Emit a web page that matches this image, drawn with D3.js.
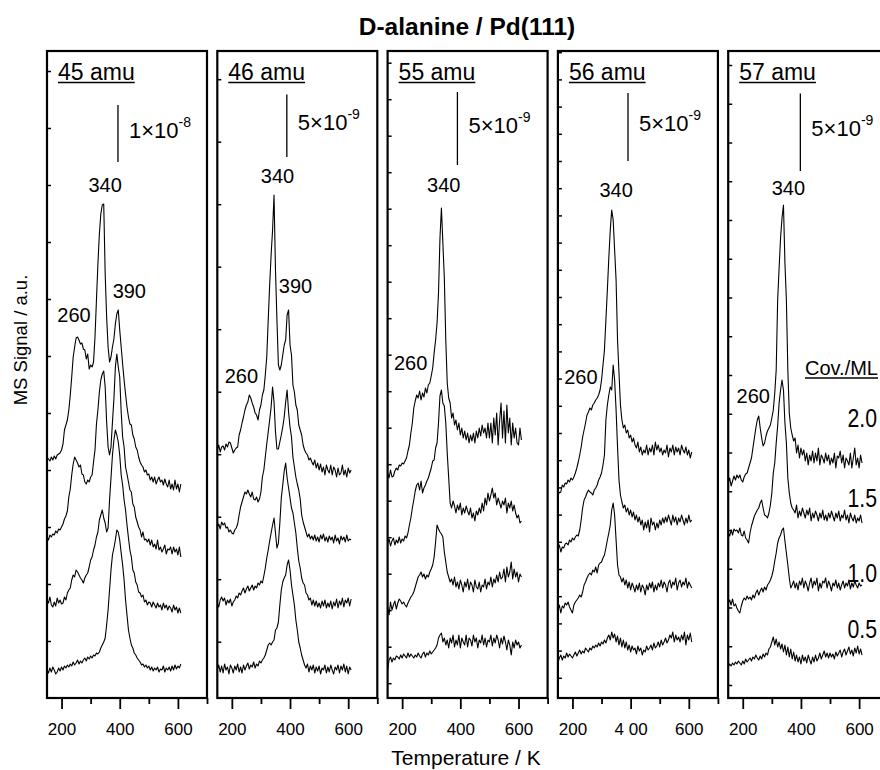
<!DOCTYPE html>
<html lang="en">
<head>
<meta charset="UTF-8">
<title>D-alanine / Pd(111)</title>
<script src="https://cdn.jsdelivr.net/npm/d3@7"></script>
<style>
    body { margin: 0; background: #fff; }
    svg { display: block; font-family: "Liberation Sans", Arial, Helvetica, sans-serif; }
</style>
</head>
<body>
<svg id="chart" width="880" height="770"></svg>
<script>
"use strict";

// temperature grid of every trace (K)
var temps = d3.range(150, 611, 5);

var masses = ["45 amu", "46 amu", "55 amu", "56 amu", "57 amu"];
var coverages = ["2.0", "1.5", "1.0", "0.5"];

// signal scale bars and left ticks, in A
var scaleBars = [1e-8, 5e-9, 5e-9, 5e-9, 5e-9];
var yTickSteps = [1e-8, 5e-9, 2.5e-9, 2e-9, 2.5e-9];
// plotted a.u. per 1e-9 A in each panel
var gains = [5.7, 12.5, 14.6, 13.6, 15.5];

var xTicks = [200, 400, 600];
var xMinorTicks = [300, 500, 700];
var xTickLabels = [
    ["200", "400", "600"],
    ["200", "400", "600"],
    ["200", "400", "600"],
    ["200", "4 00", "600"],
    ["200", "400", "600"]
];

// baseline of each trace (a.u.), order 2.0, 1.5, 1.0, 0.5 ML
var offsets45 = [241, 161, 98, 28];
var offsets46 = [248, 171, 95, 28];
var offsets55 = [225, 155, 91, 38];
var offsets56 = [208, 148, 88, 38];
var offsets57 = [215, 165, 95, 31];

// signal above baseline (a.u.), one value per 5 K from 150 to 610 K
var m45_20 = [0,-2,-4,0,-3,1,-2,2,3,4, 7,13,27,32,37,47,62,80,100,110, 119,120,117,113,114,108,107,98,103,88,
    92,90,95,120,157,193,223,243,252,253, 183,140,110,95,100,110,118,133,143,147, 127,110,93,77,63,50,40,33,32,22,
    18,10,7,0,-5,-8,-10,-15,-13,-18, -17,-23,-20,-25,-20,-27,-23,-20,-25,-23, -28,-22,-27,-30,-23,-32,-27,-33,-23,-32, -27,-35,-27];
var m45_15 = [0,-3,2,0,3,2,6,4,8,7, 10,13,18,21,26,40,48,62,73,80, 77,74,70,72,63,62,55,53,57,55,
    60,62,75,87,113,127,145,157,163,166, 150,115,90,82,90,115,138,170,183,170, 160,125,100,90,70,63,55,47,45,33,
    30,20,15,10,7,0,5,-3,-2,-5, -2,-8,-3,-10,-7,-12,-3,-13,-10,-15, -12,-8,-17,-12,-13,-10,-17,-10,-15,-12, -18,-10,-20];
var m45_10 = [0,-3,3,-5,-7,-2,-6,2,-3,0, -4,-3,3,0,7,10,12,20,25,23, 30,28,25,22,20,17,22,25,27,33,
    40,43,50,55,63,68,80,85,90,82, 77,68,72,100,122,145,160,170,165,158, 145,125,115,100,90,75,62,50,43,30,
    27,18,15,8,7,3,5,-2,0,-5, -2,-3,-7,-2,-5,-8,-3,-7,-5,-10, -3,-8,-5,-10,-6,-8,-12,-5,-10,-7, -13,-8,-13];
var m45_05 = [0,-3,2,-2,3,0,-4,-2,2,-1, 3,0,4,2,5,3,6,4,8,5, 7,10,6,9,7,10,12,9,13,11,
    14,12,15,14,17,16,18,22,25,28, 32,45,60,80,100,115,122,130,140,138, 130,117,105,90,70,55,40,32,25,22,
    17,15,12,10,8,5,6,3,5,2, 4,0,3,-1,2,0,3,-2,1,0, 4,-2,2,0,3,-1,4,0,5,1, 4,2,6];

var m46_20 = [0,5,-2,3,4,0,6,3,8,7, 2,-3,0,2,3,15,20,27,33,40, 45,48,55,52,47,43,37,35,30,40,
    45,55,60,75,93,130,165,195,220,255, 180,130,85,80,85,95,105,110,135,140, 105,95,65,58,45,40,25,20,15,5,
    0,-3,-5,-10,-8,-12,-15,-10,-18,-13, -20,-14,-22,-17,-25,-15,-20,-23,-15,-25, -17,-20,-27,-18,-25,-23,-15,-25,-20,-27, -18,-23,-20];
var m46_15 = [0,3,-2,5,2,4,-1,0,-5,-3, -6,-7,-3,-1,3,12,20,25,30,35, 33,37,33,30,35,28,27,30,25,28,
    35,50,57,70,83,95,107,120,140,125, 95,78,78,85,92,100,110,125,137,115, 100,90,70,60,50,43,37,28,12,5,
    0,-5,-10,-7,-12,-9,-13,-8,-14,-10, -15,-8,-12,-7,-14,-10,-15,-9,-13,-10, -16,-8,-14,-11,-17,-9,-13,-10,-15,-8, -14,-12,-13];
var m46_10 = [0,-4,3,6,2,5,-2,3,0,4, -3,1,3,7,5,10,8,12,15,10, 14,17,12,15,18,13,17,15,20,18,
    22,20,27,35,45,53,62,70,78,85, 70,55,60,80,105,118,132,140,125,115, 105,95,90,80,70,55,42,35,25,20,
    18,10,8,3,5,-2,3,-3,2,-4, 0,-5,2,-3,3,-5,0,-4,2,-6, 1,-3,4,-5,2,-2,5,-4,3,0, 5,-3,4];
var m46_05 = [0,5,-2,4,-3,6,0,3,-4,5, 2,-3,4,0,6,-2,3,-3,5,0, 4,7,1,5,3,8,2,6,4,9,
    7,10,12,15,20,25,27,25,28,30, 40,42,48,65,80,88,92,95,105,110, 100,85,75,65,50,40,28,22,15,10,
    5,2,6,-2,4,0,5,-3,3,-1, 4,-4,2,0,5,-3,3,-2,5,0, -4,3,0,5,-3,4,0,6,-2,4, -4,3,0];

var m55_20 = [0,-5,3,-4,-3,2,5,3,8,7, 10,9,12,15,22,28,40,50,65,72, 78,75,82,73,80,76,85,80,88,90,
    97,105,120,133,150,180,235,265,230,195, 133,90,75,70,55,60,48,53,43,50, 38,45,35,42,33,40,30,38,32,40,
    30,42,35,45,37,48,40,45,35,50, 35,50,30,55,38,60,28,52,70,35, 62,30,68,40,55,28,50,35,45,30, 28,45,33];
var m55_15 = [0,4,-3,2,5,-2,3,0,6,0, 4,2,7,5,10,18,25,35,43,52, 58,60,53,62,50,55,58,62,65,70,
    75,82,83,95,100,120,147,153,140,137, 120,90,65,40,35,42,37,30,38,33, 40,28,35,30,37,32,28,35,25,30,
    22,32,28,35,30,40,32,45,38,50, 42,48,55,45,50,38,45,40,35,42, 38,45,30,40,35,42,32,38,30,25, 28,20,22];
var m55_10 = [0,-8,5,-3,2,6,-2,4,8,6, 3,5,2,0,4,7,10,12,15,20, 25,30,32,35,30,33,28,32,30,35,
    38,42,50,65,82,78,75,73,70,55, 45,35,30,25,28,22,30,20,25,18, 27,22,15,25,20,28,17,25,22,15,
    27,20,18,25,15,22,20,28,18,25, 22,30,20,28,24,32,25,35,28,30, 38,25,40,30,35,45,28,38,30,35, 25,33,30];
var m55_05 = [-10,0,3,-2,2,0,4,3,1,5, 2,6,4,2,7,3,6,4,2,5, 3,7,4,2,6,8,3,7,5,9,
    6,8,10,12,15,22,25,27,18,22, 15,20,12,22,17,25,13,20,15,25, 12,22,18,15,25,13,22,20,14,25,
    18,22,12,20,17,25,15,22,13,20, 18,25,14,22,17,25,20,12,22,16, 24,18,10,20,15,5,18,12,20,15, 18,12,15];

var m56_20 = [0,-3,-2,5,3,7,6,10,8,12, 10,13,17,22,28,35,43,53,60,67, 75,78,82,80,85,87,90,92,95,100,
    110,125,140,170,200,232,260,280,270,240, 210,150,117,85,70,62,65,57,60,52, 55,48,52,45,42,48,38,43,35,40,
    37,45,35,42,38,45,35,48,40,45, 38,42,35,40,37,45,33,42,38,45, 35,43,38,42,35,45,40,37,43,35, 40,32,38];
var m56_15 = [0,5,-2,3,2,6,7,5,10,8, 12,10,13,15,14,20,30,42,50,53, 57,60,58,57,55,60,62,65,70,73,
    77,85,95,130,145,155,163,160,185,170, 140,103,70,55,48,42,45,38,42,35, 40,33,38,30,35,28,33,25,30,20,
    28,22,30,18,32,25,28,20,27,22, 30,25,32,27,33,28,35,30,25,35, 28,33,25,32,28,35,30,25,32,27, 35,28,30];
var m56_10 = [0,5,-3,4,2,7,5,8,3,0, -3,5,8,10,12,15,13,18,25,28, 32,35,37,35,40,38,43,37,45,47,
    48,52,55,62,70,77,85,100,107,95, 70,45,35,33,28,32,25,30,22,28, 20,27,23,18,25,20,27,18,25,22,
    15,25,20,27,22,28,18,25,20,27, 23,30,22,28,25,18,27,30,22,28, 25,32,20,27,30,23,28,25,32,22, 28,25,22];
var m56_05 = [-3,2,5,0,4,2,7,3,6,4, 2,5,8,4,7,10,6,9,7,12, 10,8,12,10,14,12,15,13,17,14,
    18,16,20,17,22,25,20,28,22,26, 18,24,15,22,13,20,12,18,10,15, 8,14,10,12,6,14,9,12,5,10,
    8,14,10,12,15,10,17,12,14,18, 13,20,15,18,22,17,20,25,22,28, 18,25,20,23,18,25,20,28,15,25, 20,27,18];

var m57_20 = [0,5,-3,2,7,3,8,5,8,3, 1,6,9,10,15,20,25,35,45,55, 63,67,55,45,37,40,47,52,55,58,
    65,73,90,113,183,215,245,265,278,220, 183,113,70,55,48,42,45,30,38,25, 35,28,33,22,30,18,28,22,32,20,
    30,22,35,18,28,25,20,30,22,28, 18,25,20,30,15,27,25,32,20,28, 15,25,22,18,30,15,25,35,18,25, 15,28,20];
var m57_15 = [0,-3,3,-2,4,2,3,0,5,-2, -3,2,-5,-7,-10,0,7,12,17,20, 23,25,30,33,25,18,17,15,20,28,
    40,60,70,90,107,130,143,153,143,110, 90,55,40,30,25,23,20,28,15,22, 17,25,20,15,23,18,25,12,20,15,
    22,18,12,20,15,23,13,18,12,20, 15,22,17,12,20,15,22,12,18,15, 23,13,18,10,20,15,12,18,10,15, 12,18,10];
var m57_10 = [0,3,-2,4,-3,-1,-5,-8,-10,-3, 2,5,3,7,4,6,3,8,5,10, 13,8,12,15,11,16,13,18,20,23,
    27,33,42,50,60,65,68,73,75,62, 50,38,25,15,18,22,15,20,13,22, 18,25,15,22,18,12,20,25,15,22,
    18,25,12,20,15,22,20,25,15,22, 18,12,20,17,23,15,20,13,18,22, 15,20,17,23,14,20,16,22,18,15, 20,17,18];
var m57_05 = [0,3,1,4,2,5,3,6,4,2, 6,3,8,5,7,9,6,10,8,12, 9,7,11,8,13,10,14,12,18,20,
    25,30,22,28,20,25,18,23,15,22, 12,20,10,18,8,15,6,12,5,10, 3,12,6,10,4,12,7,3,10,5,
    12,6,9,14,8,12,16,10,14,9, 14,10,13,8,15,11,14,17,10,15, 18,12,16,20,13,17,11,19,14,21, 13,18,12];

var panels = [
    { traces: [m45_20, m45_15, m45_10, m45_05], offsets: offsets45 },
    { traces: [m46_20, m46_15, m46_10, m46_05], offsets: offsets46 },
    { traces: [m55_20, m55_15, m55_10, m55_05], offsets: offsets55 },
    { traces: [m56_20, m56_15, m56_10, m56_05], offsets: offsets56 },
    { traces: [m57_20, m57_15, m57_10, m57_05], offsets: offsets57 }
];

// ---- layout ----
var panelW = 160, plotTop = 51, plotBottom = 698, left0 = 47, panelStep = 170.3;
var spanAU = plotBottom - plotTop;
var tickPhase = [0, 56.3, 14.8, 20.2, 13];
var barT = [394, 389, 390, 391, 398];
var barBase = [536, 541, 533, 537, 527];
// [panel, text, T, a.u.] of the peak temperature notes
var peakNotes = [
    [0, "340", 350, 506], [0, "390", 433, 400], [0, "260", 243, 376],
    [1, "340", 357, 515], [1, "390", 419, 405], [1, "260", 233, 315],
    [2, "340", 343, 506], [2, "260", 229, 328],
    [3, "340", 350, 501], [3, "260", 229, 314],
    [4, "340", 357, 503], [4, "260", 236, 295]
];
var covLabelY = [427, 507, 582, 638];

var svg = d3.select("#chart");

function xScale(i) {
    var left = left0 + i * panelStep;
    return d3.scaleLinear().domain([150, 700]).range([left, left + panelW]);
}
var yScale = d3.scaleLinear().domain([0, spanAU]).range([plotBottom, plotTop]);

function underline(sel, gap) {
    var node = sel.node();
    var x0 = +sel.attr("x"), y0 = +sel.attr("y");
    svg.append("line")
        .attr("x1", x0).attr("x2", x0 + node.getComputedTextLength())
        .attr("y1", y0 + gap).attr("y2", y0 + gap)
        .attr("stroke", "#000").attr("stroke-width", 1.5);
}

svg.append("text")
    .attr("x", 467).attr("y", 35)
    .attr("text-anchor", "middle")
    .attr("font-size", 24.5).attr("font-weight", "bold")
    .text("D-alanine / Pd(111)");

svg.append("text")
    .attr("transform", "translate(27,340) rotate(-90)")
    .attr("text-anchor", "middle")
    .attr("font-size", 18.5)
    .text("MS Signal / a.u.");

svg.append("text")
    .attr("x", 466).attr("y", 765)
    .attr("text-anchor", "middle")
    .attr("font-size", 21)
    .text("Temperature / K");

panels.forEach(function (p, i) {
    var left = left0 + i * panelStep;
    var x = xScale(i);
    var y = yScale;
    var g = svg.append("g");

    // traces
    p.traces.forEach(function (tr, k) {
        var line = d3.line()
            .x(function (d, j) { return x(temps[j]); })
            .y(function (d) { return y(p.offsets[k] + d); });
        g.append("path")
            .attr("d", line(tr))
            .attr("fill", "none")
            .attr("stroke", "#000")
            .attr("stroke-width", 1.1)
            .attr("stroke-linejoin", "round");
    });

    // x axis, major and minor
    var labels = xTickLabels[i];
    var major = g.append("g")
        .attr("transform", "translate(0," + plotBottom + ")")
        .call(d3.axisBottom(x).tickValues(xTicks).tickSize(11).tickSizeOuter(0).tickPadding(14)
            .tickFormat(function (d, j) { return labels[j]; }));
    var minor = g.append("g")
        .attr("transform", "translate(0," + plotBottom + ")")
        .call(d3.axisBottom(x).tickValues(xMinorTicks).tickSize(6).tickSizeOuter(0).tickFormat(""));
    [major, minor].forEach(function (a) {
        a.select(".domain").remove();
        a.selectAll("line").attr("stroke", "#000").attr("stroke-width", 1.8);
    });
    major.attr("font-family", null);
    major.selectAll("text").attr("font-size", 17).attr("fill", "#000");

    // left inner ticks
    var yStep = yTickSteps[i] / 1e-9 * gains[i];
    var yVals = d3.range(tickPhase[i], spanAU, yStep).filter(function (v) { return v > 2; });
    var yAxis = g.append("g")
        .attr("transform", "translate(" + left + ",0)")
        .call(d3.axisRight(y).tickValues(yVals).tickSize(4).tickFormat(""));
    yAxis.select(".domain").remove();
    yAxis.selectAll("line").attr("stroke", "#000").attr("stroke-width", 1.5);

    // frame
    g.append("rect")
        .attr("x", left).attr("y", plotTop)
        .attr("width", panelW).attr("height", plotBottom - plotTop)
        .attr("fill", "none").attr("stroke", "#000").attr("stroke-width", 2.2);

    // mass label
    var ml = svg.append("text")
        .attr("x", left + 11).attr("y", 80)
        .attr("font-size", 23)
        .text(masses[i]);
    underline(ml, 2.5);

    // scale bar
    var barLen = scaleBars[i] / 1e-9 * gains[i];
    var bx = x(barT[i]);
    var y1 = y(barBase[i]), y2 = y(barBase[i] + barLen);
    g.append("line")
        .attr("x1", bx).attr("x2", bx).attr("y1", y1).attr("y2", y2)
        .attr("stroke", "#000").attr("stroke-width", 1.3);
    var exp = Math.floor(Math.log10(scaleBars[i]) + 1e-9);
    var mant = Math.round(scaleBars[i] / Math.pow(10, exp));
    var sl = g.append("text")
        .attr("x", bx + 11).attr("y", (y1 + y2) / 2 + 4)
        .attr("font-size", 22);
    sl.append("tspan").text(mant + "\u00d710");
    sl.append("tspan").attr("font-size", 14).attr("dy", -11).text(String(exp));
});

// peak temperature notes
peakNotes.forEach(function (n) {
    var x = xScale(n[0]);
    svg.append("text")
        .attr("x", x(n[2])).attr("y", yScale(n[3]))
        .attr("text-anchor", "middle")
        .attr("font-size", 20)
        .text(n[1]);
});

// coverage legend
var cl = svg.append("text")
    .attr("x", 805).attr("y", 375)
    .attr("font-size", 20)
    .text("Cov./ML");
underline(cl, 3);

coverages.forEach(function (c, k) {
    svg.append("text")
        .attr("transform", "translate(877," + covLabelY[k] + ") scale(0.85,1)")
        .attr("text-anchor", "end")
        .attr("font-size", 25)
        .text(c);
});
</script>
</body>
</html>
